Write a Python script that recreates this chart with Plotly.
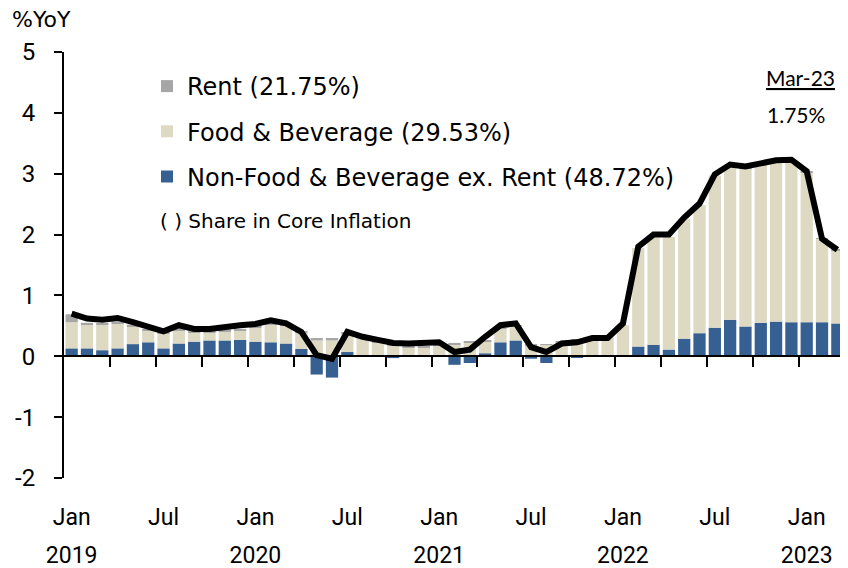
import plotly.graph_objects as go

# ---------------- data ----------------
years = [2019, 2020, 2021, 2022, 2023]
month_names = ["Jan", "Feb", "Mar", "Apr", "May", "Jun", "Jul", "Aug", "Sep", "Oct", "Nov", "Dec"]
n_months = 51  # Jan 2019 .. Mar 2023

core_inflation = [
    0.70, 0.62, 0.60, 0.63, 0.56, 0.48, 0.41, 0.51, 0.45, 0.45, 0.49, 0.51,
    0.53, 0.59, 0.54, 0.40, 0.02, -0.04, 0.40, 0.32, 0.27, 0.22, 0.21, 0.22,
    0.23, 0.07, 0.11, 0.32, 0.51, 0.54, 0.15, 0.07, 0.21, 0.23, 0.30, 0.30,
    0.54, 1.80, 2.00, 2.00, 2.28, 2.51, 2.99, 3.15, 3.12, 3.17, 3.22, 3.23,
    3.04, 1.93, 1.75,
]
nonfood_ex_rent = [
    0.13, 0.13, 0.10, 0.13, 0.20, 0.23, 0.13, 0.21, 0.24, 0.26, 0.26, 0.27,
    0.24, 0.23, 0.21, 0.12, -0.30, -0.35, 0.07, 0.00, 0.00, -0.03, -0.01, -0.01,
    -0.01, -0.14, -0.11, 0.05, 0.23, 0.26, -0.04, -0.11, 0.00, -0.02, 0.00, -0.01,
    0.00, 0.16, 0.19, 0.11, 0.29, 0.38, 0.47, 0.60, 0.49, 0.55, 0.57, 0.56,
    0.56, 0.56, 0.54,
]
food_beverage = [
    0.43, 0.39, 0.42, 0.41, 0.29, 0.19, 0.24, 0.22, 0.15, 0.13, 0.15, 0.15,
    0.24, 0.30, 0.29, 0.27, 0.26, 0.26, 0.30, 0.31, 0.23, 0.18, 0.15, 0.15,
    0.18, 0.20, 0.22, 0.20, 0.22, 0.24, 0.18, 0.19, 0.23, 0.26, 0.31, 0.31,
    0.51, 1.62, 1.76, 1.85, 1.97, 2.10, 2.50, 2.51, 2.60, 2.60, 2.62, 2.63,
    2.46, 1.37, 1.20,
]
rent = [
    0.13, 0.03, 0.02, 0.03, 0.03, 0.03, 0.02, 0.03, 0.03, 0.03, 0.03, 0.03,
    0.03, 0.02, 0.02, 0.02, 0.04, 0.04, 0.02, 0.01, 0.01, 0.01, 0.01, 0.01,
    0.01, 0.02, 0.02, 0.01, 0.01, 0.01, 0.01, 0.01, 0.01, 0.01, 0.00, 0.00,
    0.00, 0.00, 0.00, 0.00, 0.00, 0.00, 0.00, 0.00, 0.01, 0.01, 0.01, 0.01,
    0.02, 0.01, 0.01,
]
legend_names = [
    "Rent (21.75%)",
    "Food & Beverage (29.53%)",
    "Non-Food & Beverage ex. Rent (48.72%)",
]
y_ticks = [5, 4, 3, 2, 1, 0, -1, -2]
y_tick_text = ["5", "4", "3", "2", "1", "0", "-1", "-2"]
# ---------------------------------------

x_idx = list(range(n_months))
month_vals, month_text, year_vals, year_text = [], [], [], []
for i in range(0, n_months, 6):
    m = month_names[i % 12]
    month_vals.append(i)
    month_text.append(m)
    if m == "Jan":
        year_vals.append(i)
        year_text.append(str(years[i // 12]))
boundary_ticks = [i + 2.5 for i in range(0, n_months, 3)]

# page body has an 8px margin; layout is expressed in screen pixels
OFF = 8
W, H = 848 - OFF, 568 - OFF
LEFT, RIGHT, TOP, BOTTOM, AXIS_BOTTOM = 64, 845, 52, 558, 478   # screen px
Y_MIN, Y_MAX = -2, 5
dom0 = (BOTTOM - AXIS_BOTTOM) / (BOTTOM - TOP)
zero_pos = dom0 + (1 - dom0) * (0 - Y_MIN) / (Y_MAX - Y_MIN)


def py(px):  # screen row -> paper fraction
    return (BOTTOM - px) / (BOTTOM - TOP)


def pxx(px):  # screen column -> paper fraction
    return (px - LEFT) / (RIGHT - LEFT)


TICKFONT = "Roboto"
TEXTFONT = "DejaVu Sans"
fig = go.Figure()
fig.add_trace(go.Bar(x=x_idx, y=nonfood_ex_rent, name=legend_names[2], legendrank=3,
                     marker=dict(color="#376092", line_width=0), legendgroup="c"))
fig.add_trace(go.Bar(x=x_idx, y=food_beverage, name=legend_names[1], legendrank=2,
                     marker=dict(color="#DDD9C3", line_width=0), legendgroup="b"))
fig.add_trace(go.Bar(x=x_idx, y=rent, name=legend_names[0], legendrank=1,
                     marker=dict(color="#A6A6A6", line_width=0), legendgroup="a"))
fig.add_trace(go.Scatter(x=x_idx, y=core_inflation, mode="lines",
                         line=dict(color="black", width=6), showlegend=False))
# helper traces so the extra axes render
fig.add_trace(go.Scatter(x=[None], y=[None], xaxis="x2", showlegend=False, hoverinfo="skip"))
fig.add_trace(go.Scatter(x=[None], y=[None], xaxis="x3", showlegend=False, hoverinfo="skip"))

fig.update_layout(
    width=W, height=H,
    margin=dict(l=LEFT - OFF, r=W - (RIGHT - OFF), t=TOP - OFF, b=H - (BOTTOM - OFF),
                autoexpand=False),
    paper_bgcolor="white", plot_bgcolor="white",
    barmode="relative", bargap=0.2,
    font=dict(family=TEXTFONT, color="black", size=22),
    showlegend=True,
    legend=dict(x=pxx(147), y=py(64), xanchor="left", yanchor="top",
                traceorder="grouped", tracegroupgap=11,
                bgcolor="rgba(0,0,0,0)", font=dict(size=24, family=TEXTFONT)),
    xaxis=dict(range=[-0.5, n_months - 0.5], anchor="free", position=dom0,
               tickmode="array", tickvals=month_vals, ticktext=month_text,
               showline=False, showgrid=False, zeroline=False, automargin=False,
               ticks="outside", ticklen=18, tickcolor="rgba(0,0,0,0)",
               tickfont=dict(size=23, family=TICKFONT)),
    xaxis2=dict(range=[-0.5, n_months - 0.5], overlaying="x", anchor="free",
                position=zero_pos, side="bottom", tickmode="array",
                tickvals=boundary_ticks, showticklabels=False, automargin=False,
                showline=True, linecolor="black", linewidth=2,
                ticks="outside", ticklen=10, tickwidth=2, tickcolor="black",
                showgrid=False, zeroline=False),
    xaxis3=dict(range=[-0.5, n_months - 0.5], overlaying="x", anchor="free",
                position=dom0, side="bottom", tickmode="array",
                tickvals=year_vals, ticktext=year_text, automargin=False,
                showline=False, showgrid=False, zeroline=False,
                ticks="outside", ticklen=56, tickcolor="rgba(0,0,0,0)",
                tickfont=dict(size=23, family=TICKFONT)),
    yaxis=dict(range=[Y_MIN, Y_MAX], domain=[dom0, 1], anchor="x",
               tickmode="array", tickvals=y_ticks, ticktext=y_tick_text,
               automargin=False,
               showline=True, linecolor="black", linewidth=2,
               ticks="outside", ticklen=8, tickwidth=2, tickcolor="black",
               showgrid=False, zeroline=False, ticklabelstandoff=14,
               tickfont=dict(size=24, family=TICKFONT)),
    annotations=[
        dict(text="%YoY", xref="paper", yref="paper", x=pxx(10), y=py(20),
             xanchor="left", yanchor="middle", showarrow=False,
             font=dict(size=22, family=TEXTFONT)),
        dict(text="( ) Share in Core Inflation", xref="paper", yref="paper",
             x=pxx(158), y=py(221), xanchor="left", yanchor="middle", showarrow=False,
             font=dict(size=20, family=TEXTFONT)),
        dict(text="<u>Mar-23</u>", xref="paper", yref="paper", x=pxx(800), y=py(77),
             xanchor="center", yanchor="middle", showarrow=False,
             font=dict(size=21, family="Lato")),
        dict(text="1.75%", xref="paper", yref="paper", x=pxx(796), y=py(115),
             xanchor="center", yanchor="middle", showarrow=False,
             font=dict(size=21, family="Lato")),
    ],
)

fig.write_html("out.html")
